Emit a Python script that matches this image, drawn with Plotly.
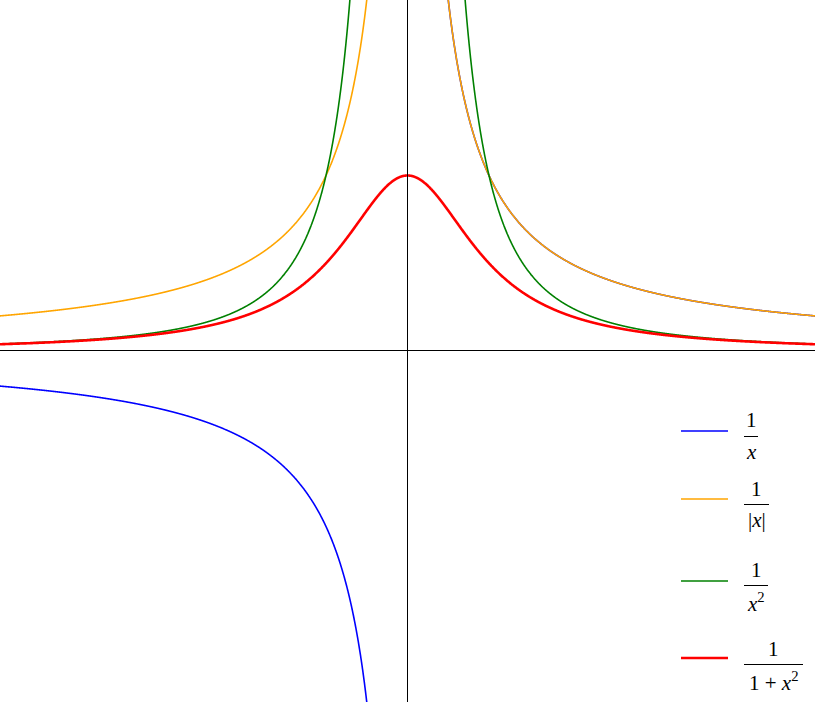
import numpy as np
import plotly.graph_objects as go

W, H = 815, 702

# Axis extents
x_range = [-5.0, 5.0]
y_range = [-2.0, 2.0]

# Sample points along x (the plotted functions are analytic)
x_neg = np.linspace(-5.0, -0.05, 2000)
x_pos = np.linspace(0.05, 5.0, 2000)
x_all = np.concatenate([x_neg, [np.nan], x_pos])

series_names = ["1/x", "1/|x|", "1/x^2", "1/(1+x^2)"]
series_colors = ["#0000ff", "#ffa500", "#008000", "#ff0000"]
series_widths = [1.6, 1.6, 1.6, 2.6]

y_inv = 1.0 / x_all
y_inv_abs = 1.0 / np.abs(x_all)
y_inv_sq = 1.0 / x_all ** 2
x_full = np.linspace(-5.0, 5.0, 3001)
y_lorentz = 1.0 / (1.0 + x_full ** 2)

series_x = [x_all, x_all, x_all, x_full]
series_y = [y_inv, y_inv_abs, y_inv_sq, y_lorentz]

# Legend labels (numerator, denominator)
legend_num = ["1", "1", "1", "1"]
legend_den = ["<i>x</i>", "|<i>x</i>|", "<i>x</i><sup>2</sup>", "1 + <i>x</i><sup>2</sup>"]

fig = go.Figure()
for name, xs, ys, c, w in zip(series_names, series_x, series_y, series_colors, series_widths):
    fig.add_trace(go.Scatter(x=xs, y=ys, mode="lines", name=name,
                             line=dict(color=c, width=w, simplify=False), showlegend=False,
                             connectgaps=False, hoverinfo="skip"))

def px(x):
    return x / W

def py(y):
    return 1 - y / H

shapes = []
annotations = []
# axes through origin, drawn above curves
shapes.append(dict(type="line", xref="x", yref="paper", x0=0, x1=0, y0=0, y1=1,
                   line=dict(color="black", width=1), layer="above"))
shapes.append(dict(type="line", xref="paper", yref="paper", x0=0, x1=1,
                   y0=py(350.5), y1=py(350.5),
                   line=dict(color="black", width=1), layer="above"))

# custom legend: sample line, numerator, fraction bar, denominator
entry_line_y = [431, 499, 581, 658]
entry_bar_y = [436, 504, 585, 664]
entry_bar_x1 = [758, 769, 768, 803]
font_serif = "Liberation Serif, DejaVu Serif, serif"
for i in range(4):
    ly = entry_line_y[i]
    shapes.append(dict(type="line", xref="paper", yref="paper",
                       x0=px(681), x1=px(728), y0=py(ly), y1=py(ly),
                       line=dict(color=series_colors[i], width=series_widths[i])))
    by = entry_bar_y[i] + 0.5
    bx0, bx1 = 744, entry_bar_x1[i]
    shapes.append(dict(type="line", xref="paper", yref="paper",
                       x0=px(bx0), x1=px(bx1), y0=py(by), y1=py(by),
                       line=dict(color="black", width=1)))
    cx = (bx0 + bx1) / 2
    annotations.append(dict(xref="paper", yref="paper", x=px(cx), y=py(by - 2),
                            text=legend_num[i], showarrow=False, xanchor="center",
                            yanchor="bottom", font=dict(family=font_serif, size=21, color="black")))
    annotations.append(dict(xref="paper", yref="paper", x=px(cx), y=py(by + 1),
                            text=legend_den[i], showarrow=False, xanchor="center",
                            yanchor="top", font=dict(family=font_serif, size=21, color="black")))

fig.update_layout(
    width=W, height=H,
    margin=dict(l=0, r=0, t=0, b=0),
    paper_bgcolor="white", plot_bgcolor="white",
    xaxis=dict(range=x_range, visible=False, showgrid=False, zeroline=False),
    yaxis=dict(range=y_range, visible=False, showgrid=False, zeroline=False),
    shapes=shapes, annotations=annotations, showlegend=False,
)

fig.write_html("out.html", config={"displayModeBar": False},
               post_script="document.body.style.margin='0';document.body.style.overflow='hidden';")
